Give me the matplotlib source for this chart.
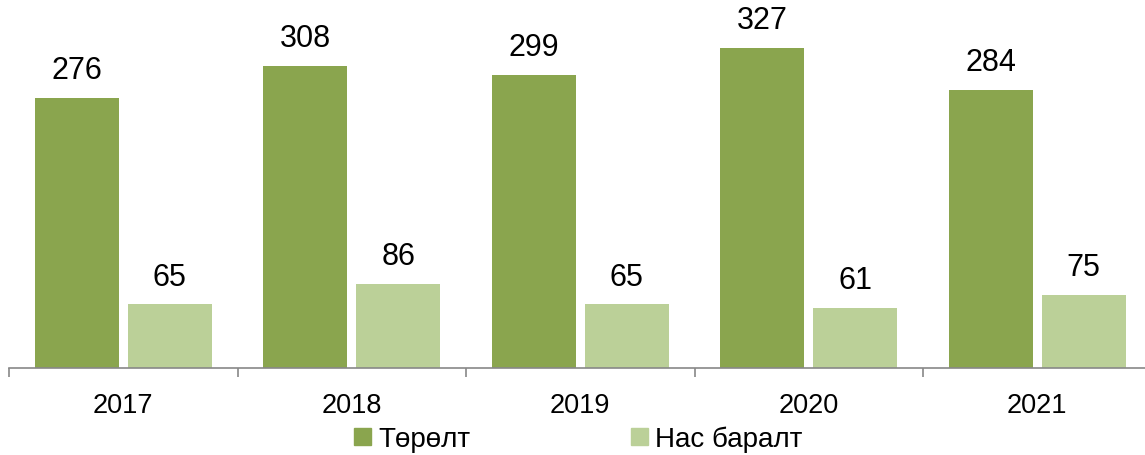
import matplotlib
matplotlib.use("Agg")
import matplotlib.pyplot as plt
import numpy as np
from matplotlib.patches import Patch

plt.rcParams['font.family'] = ['Liberation Sans', 'DejaVu Sans']

years = ["2017", "2018", "2019", "2020", "2021"]
births = [276, 308, 299, 327, 284]
deaths = [65, 86, 65, 61, 75]
series_names = ["Төрөлт", "Нас баралт"]
colors = ["#8AA54E", "#BBD098"]

W, H = 1145, 456
fig = plt.figure(figsize=(W / 100, H / 100), dpi=100)
left, right = 9, 9 + 5 * 228.5
bottom = 369
ax = fig.add_axes([left / W, 1 - bottom / H, (right - left) / W, bottom / H])

x = np.arange(len(years))
bw = 84 / 228.5
off = 46.5 / 228.5
b1 = ax.bar(x - off, births, bw, color=colors[0], label=series_names[0])
b2 = ax.bar(x + off, deaths, bw, color=colors[1], label=series_names[1])

for bars, vals in ((b1, births), (b2, deaths)):
    for rect, v in zip(bars, vals):
        ax.annotate(str(v), (rect.get_x() + rect.get_width() / 2, v),
                    xytext=(0, 20), textcoords='offset points',
                    ha='center', va='center', fontsize=22, color='black')

ax.set_xlim(-0.5, 4.5)
ax.set_ylim(0, bottom / 0.98)
for s in ['top', 'right', 'left']:
    ax.spines[s].set_visible(False)
ax.spines['bottom'].set_color('#888888')
ax.spines['bottom'].set_linewidth(1.2)
ax.set_yticks([])
ax.set_xticks(x)
ax.set_xticklabels(years, fontsize=19.5)
ax.set_xticks(np.arange(-0.5, 5, 1), minor=True)
ax.tick_params(axis='x', which='major', length=0, pad=17)
ax.tick_params(axis='x', which='minor', length=6.5, width=1.2, color='#888888', direction='out')

handles = [Patch(color=colors[0]), Patch(color=colors[1])]
fig.legend(handles, series_names, loc='center', bbox_to_anchor=(0.505, 1 - 440 / H),
           ncol=2, frameon=False, fontsize=20, handlelength=0.6, handleheight=0.6,
           handletextpad=0.25, columnspacing=5.8, borderpad=0)

fig.savefig("out.png", dpi=100)
